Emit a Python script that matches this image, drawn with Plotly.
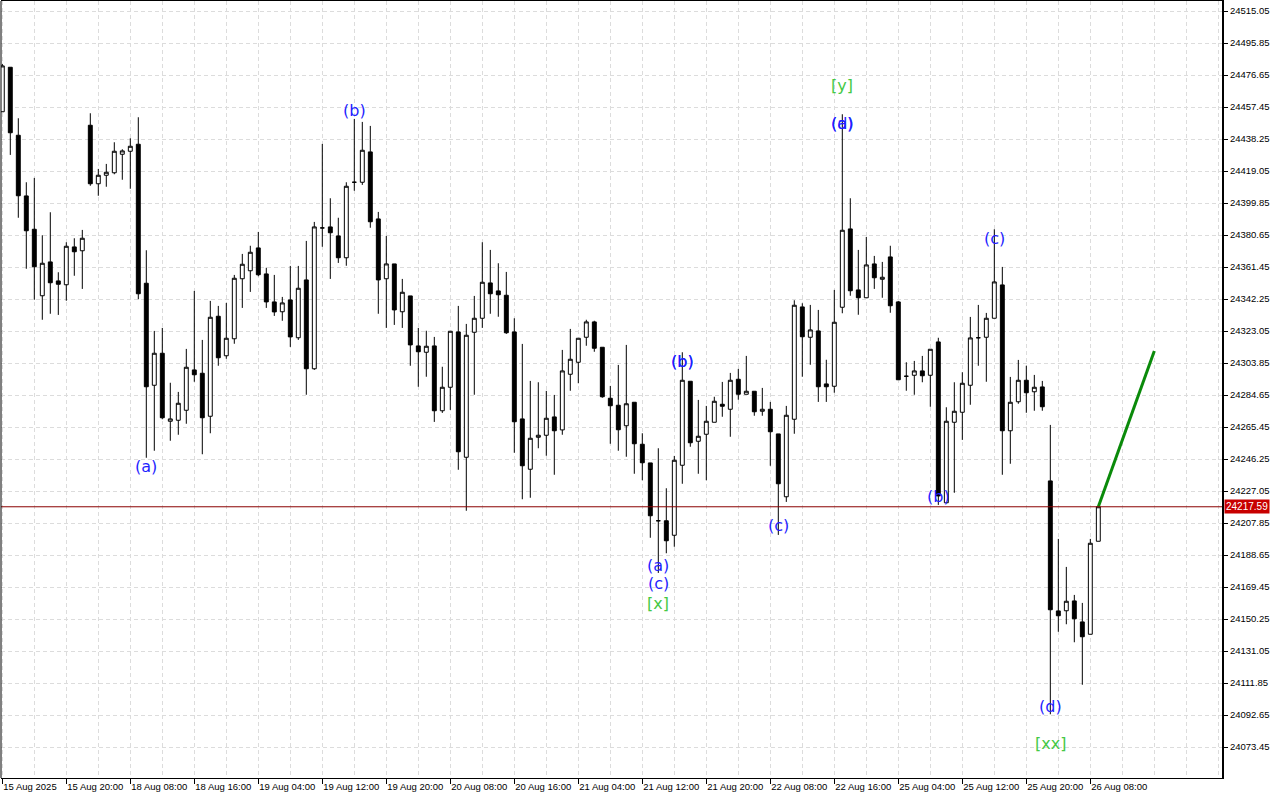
import plotly.graph_objects as go

# ---- data (H1 candles, index 0 = 15 Aug 2025 12:00) ----
open_ = [24454.6, 24481.3, 24440.5, 24404.1, 24384.1, 24344.2, 24364.5, 24353.1, 24350.8, 24373.5,
         24371.2, 24446.5, 24411.4, 24416.5, 24418.0, 24429.1, 24430.9, 24435.1, 24351.7, 24290.5,
         24309.7, 24268.9, 24269.5, 24275.5, 24299.7, 24297.7, 24271.9, 24331.9, 24308.2, 24318.4,
         24354.4, 24359.2, 24372.9, 24357.3, 24340.5, 24334.6, 24341.7, 24319.0, 24353.7, 24300.4,
         24384.9, 24385.5, 24380.1, 24367.0, 24412.3, 24412.3, 24430.5, 24390.3, 24354.4, 24363.3,
         24334.6, 24344.1, 24314.1, 24310.3, 24314.1, 24275.2, 24289.3, 24322.5, 24247.3, 24322.3,
         24330.7, 24351.9, 24347.1, 24344.5, 24322.5, 24270.3, 24240.1, 24259.3, 24260.5, 24271.5,
         24263.7, 24297.1, 24304.3, 24319.3, 24328.5, 24313.3, 24282.7, 24278.5, 24266.2, 24280.3,
         24255.1, 24243.9, 24209.2, 24209.2, 24200.5, 24242.5, 24292.9, 24256.9, 24261.1, 24268.3,
         24279.1, 24276.1, 24294.1, 24285.1, 24286.9, 24274.9, 24276.1, 24261.3, 24223.6, 24270.1,
         24337.5, 24319.3, 24323.1, 24291.3, 24289.9, 24337.3, 24384.3, 24347.7, 24343.0, 24363.3,
         24354.1, 24367.5, 24340.5, 24295.9, 24296.5, 24299.1, 24296.5, 24316.5, 24220.0, 24268.3,
         24274.3, 24290.5, 24319.0, 24319.3, 24330.7, 24350.7, 24263.2, 24280.6, 24293.5, 24286.6,
         24289.5, 24233.1, 24155.1, 24155.2, 24161.1, 24148.5, 24141.1, 24196.9]
high = [24483.3, 24481.3, 24450.7, 24412.3, 24414.9, 24380.5, 24394.3, 24358.3, 24376.3, 24378.7,
        24383.7, 24453.7, 24420.3, 24423.3, 24436.3, 24432.1, 24438.7, 24451.3, 24371.5, 24323.1,
        24324.9, 24292.0, 24286.5, 24312.3, 24347.1, 24317.7, 24341.1, 24338.1, 24339.9, 24356.7,
        24369.3, 24374.2, 24382.5, 24361.0, 24356.7, 24343.5, 24362.1, 24362.1, 24377.1, 24388.5,
        24435.3, 24402.7, 24391.0, 24412.3, 24450.3, 24448.5, 24446.1, 24394.5, 24380.1, 24363.3,
        24354.3, 24344.1, 24324.9, 24323.2, 24319.5, 24301.6, 24322.9, 24338.1, 24327.3, 24344.1,
        24376.3, 24371.7, 24363.7, 24358.5, 24330.7, 24315.3, 24293.1, 24292.3, 24287.1, 24284.7,
        24311.7, 24324.3, 24318.7, 24329.8, 24329.2, 24313.3, 24290.1, 24302.7, 24314.7, 24280.3,
        24261.7, 24243.9, 24252.7, 24228.7, 24248.1, 24310.3, 24292.9, 24281.7, 24278.1, 24283.6,
        24292.5, 24297.9, 24300.3, 24308.1, 24286.9, 24288.9, 24280.5, 24261.3, 24278.1, 24341.5,
        24339.7, 24338.7, 24335.7, 24305.8, 24347.7, 24453.1, 24402.7, 24371.7, 24379.5, 24368.1,
        24364.5, 24374.2, 24341.1, 24304.3, 24305.1, 24308.1, 24312.1, 24319.0, 24277.3, 24292.3,
        24298.3, 24331.5, 24338.7, 24333.9, 24384.1, 24361.5, 24295.5, 24305.7, 24302.2, 24296.7,
        24293.1, 24266.7, 24198.3, 24181.5, 24164.7, 24159.9, 24198.3, 24217.59]
low = [24454.5, 24428.7, 24391.0, 24360.4, 24341.8, 24329.8, 24333.4, 24332.7, 24341.2, 24356.2,
       24348.3, 24410.2, 24404.2, 24409.6, 24417.1, 24413.8, 24408.4, 24342.1, 24247.0, 24251.2,
       24270.1, 24257.2, 24260.8, 24267.4, 24292.6, 24249.1, 24261.7, 24302.2, 24306.4, 24315.4,
       24336.9, 24346.5, 24355.9, 24336.9, 24332.1, 24329.2, 24313.5, 24317.7, 24284.8, 24299.7,
       24373.6, 24354.3, 24363.9, 24362.2, 24407.2, 24410.7, 24385.0, 24333.4, 24324.9, 24326.7,
       24324.9, 24302.2, 24289.6, 24295.6, 24268.5, 24273.9, 24275.7, 24239.8, 24215.2, 24284.8,
       24324.9, 24333.4, 24331.6, 24321.3, 24250.0, 24222.1, 24223.0, 24252.7, 24248.2, 24236.8,
       24260.8, 24287.2, 24291.7, 24314.2, 24310.6, 24283.0, 24255.4, 24251.2, 24247.6, 24237.4,
       24233.5, 24199.0, 24177.9, 24189.7, 24193.6, 24231.4, 24253.6, 24237.4, 24233.5, 24268.3,
       24271.6, 24259.6, 24281.8, 24285.1, 24272.2, 24272.2, 24242.2, 24200.7, 24220.5, 24261.4,
       24295.6, 24302.8, 24280.5, 24280.5, 24286.0, 24333.7, 24344.2, 24332.8, 24343.0, 24348.3,
       24343.0, 24334.0, 24293.8, 24287.2, 24284.8, 24292.3, 24277.6, 24218.7, 24220.0, 24226.0,
       24257.7, 24278.8, 24302.2, 24292.6, 24330.7, 24236.8, 24243.4, 24279.4, 24274.0, 24275.2,
       24275.2, 24093.1, 24142.6, 24147.1, 24136.3, 24110.8, 24141.1, 24196.9]
close = [24482.1, 24442.0, 24404.2, 24383.2, 24361.6, 24363.7, 24352.0, 24351.1, 24373.9, 24370.6,
         24378.7, 24411.4, 24416.5, 24418.3, 24430.9, 24431.1, 24433.9, 24345.4, 24289.6, 24309.7,
         24271.0, 24270.3, 24279.7, 24301.3, 24296.8, 24271.0, 24331.3, 24307.0, 24318.7, 24354.7,
         24363.1, 24370.3, 24356.8, 24340.5, 24334.5, 24339.9, 24319.5, 24348.7, 24300.4, 24385.5,
         24384.9, 24382.0, 24367.0, 24409.9, 24412.3, 24431.5, 24388.6, 24353.7, 24363.3, 24335.7,
         24346.3, 24314.7, 24310.6, 24313.9, 24275.2, 24289.3, 24322.9, 24250.6, 24320.5, 24330.7,
         24352.3, 24345.4, 24344.8, 24322.0, 24268.6, 24242.2, 24258.7, 24260.5, 24270.7, 24263.2,
         24299.1, 24306.1, 24318.7, 24328.5, 24312.7, 24283.6, 24278.2, 24263.8, 24279.4, 24255.4,
         24244.0, 24212.2, 24209.2, 24197.2, 24245.5, 24293.5, 24256.0, 24259.9, 24268.9, 24280.9,
         24277.9, 24293.5, 24285.1, 24286.9, 24274.6, 24276.1, 24262.6, 24231.4, 24272.5, 24338.5,
         24319.6, 24323.7, 24289.6, 24289.6, 24328.3, 24383.5, 24347.2, 24343.0, 24362.7, 24355.0,
         24355.3, 24338.2, 24293.8, 24295.9, 24299.1, 24296.2, 24312.1, 24224.1, 24268.9, 24274.9,
         24291.7, 24318.9, 24319.0, 24330.7, 24352.5, 24263.2, 24280.3, 24293.5, 24286.0, 24289.3,
         24277.6, 24155.8, 24152.2, 24160.9, 24150.4, 24139.6, 24195.7, 24217.59]

bar_index = list(range(len(close)))

x_tick_labels = ["15 Aug 2025", "15 Aug 20:00", "18 Aug 08:00", "18 Aug 16:00", "19 Aug 04:00",
                 "19 Aug 12:00", "19 Aug 20:00", "20 Aug 08:00", "20 Aug 16:00", "21 Aug 04:00",
                 "21 Aug 12:00", "21 Aug 20:00", "22 Aug 08:00", "22 Aug 16:00", "25 Aug 04:00",
                 "25 Aug 12:00", "25 Aug 20:00", "26 Aug 08:00"]
x_tick_bars = [0, 8, 16, 24, 32, 40, 48, 56, 64, 72, 80, 88, 96, 104, 112, 120, 128, 136]

y_tick_values = [24073.45, 24092.65, 24111.85, 24131.05, 24150.25, 24169.45, 24188.65, 24207.85,
                 24227.05, 24246.25, 24265.45, 24284.65, 24303.85, 24323.05, 24342.25, 24361.45,
                 24380.65, 24399.85, 24419.05, 24438.25, 24457.45, 24476.65, 24495.85, 24515.05]

last_price = 24217.59

# projection line (from last close to target)
proj_bars = [137, 144]
proj_prices = [24217.59, 24311.0]

# wave labels
wave_bars = [18, 44, 85, 85, 82, 82, 82, 97, 105, 105, 105, 117, 124, 131, 131]
wave_prices = [24242.0, 24455.6, 24305.0, 24305.0, 24182.6, 24171.8, 24159.8, 24206.6,
               24470.6, 24447.8, 24447.8, 24224.0, 24378.8, 24098.0, 24075.8]
wave_texts = ["(a)", "(b)", "(b)", "(b)", "(a)", "(c)", "[x]", "(c)",
              "[y]", "(d)", "(a)", "(b)", "(c)", "(d)", "[xx]"]

BLUE = "#1f1fff"
GREEN = "#45c845"

fig = go.Figure()
fig.add_trace(go.Candlestick(
    x=bar_index, open=open_, high=high, low=low, close=close,
    increasing=dict(line=dict(color="black", width=1), fillcolor="white"),
    decreasing=dict(line=dict(color="black", width=1), fillcolor="black"),
    whiskerwidth=0, hoverinfo="skip", showlegend=False,
))
fig.add_trace(go.Scatter(
    x=proj_bars, y=proj_prices, mode="lines",
    line=dict(color="#0a8a0a", width=3), hoverinfo="skip", showlegend=False,
))

for b, p, t in zip(wave_bars, wave_prices, wave_texts):
    fig.add_annotation(x=b, y=p, text=t, showarrow=False, xanchor="center", yanchor="middle",
                       font=dict(family="DejaVu Sans", size=16,
                                 color=GREEN if t.startswith("[") else BLUE))

# current price line and label
fig.add_shape(type="line", xref="paper", x0=0, x1=1, yref="y", y0=last_price, y1=last_price,
              line=dict(color="#8a0000", width=1), layer="above")
fig.add_annotation(xref="paper", x=1, xanchor="left", xshift=2, yref="y", y=last_price,
                   yanchor="middle", text=f"{last_price:.2f}", showarrow=False,
                   bgcolor="#c80000", borderpad=1,
                   font=dict(family="Liberation Sans", size=10, color="white"))
# left border
fig.add_shape(type="line", xref="paper", yref="paper", x0=0, x1=0, y0=0, y1=1,
              line=dict(color="black", width=1))

grid_color = "#dcdcdc"
fig.update_layout(
    width=1280, height=800,
    margin=dict(l=1, r=58, t=1, b=22, autoexpand=False),
    paper_bgcolor="white", plot_bgcolor="white",
    showlegend=False,
    font=dict(family="Liberation Sans", size=9.5, color="black"),
    xaxis=dict(
        range=[-0.1625, 152.46], rangeslider=dict(visible=False),
        tickmode="array", tickvals=x_tick_bars, ticktext=x_tick_labels,
        ticks="outside", ticklen=5, tickcolor="black", ticklabelposition="outside right",
        tickangle=0, automargin=False,
        showgrid=True, gridcolor=grid_color, griddash="4px,3px", gridwidth=1,
        minor=dict(tickmode="linear", tick0=0, dtick=4, showgrid=True, gridcolor=grid_color,
                   griddash="4px,3px", ticks=""),
        showline=True, linecolor="black", linewidth=1, mirror=True,
        zeroline=False, fixedrange=True,
    ),
    yaxis=dict(
        side="right", range=[24054.85, 24521.05], automargin=False,
        tickmode="array", tickvals=y_tick_values, ticktext=[f"{v:.2f}" for v in y_tick_values],
        ticks="outside", ticklen=4, tickcolor="black",
        showgrid=True, gridcolor=grid_color, griddash="4px,3px", gridwidth=1,
        showline=True, linecolor="black", linewidth=2, mirror=False,
        zeroline=False, fixedrange=True,
    ),
)

fig.write_html("out.html", config={"displayModeBar": False, "staticPlot": True},
               post_script="document.body.style.margin='0';document.body.style.overflow='hidden';")
